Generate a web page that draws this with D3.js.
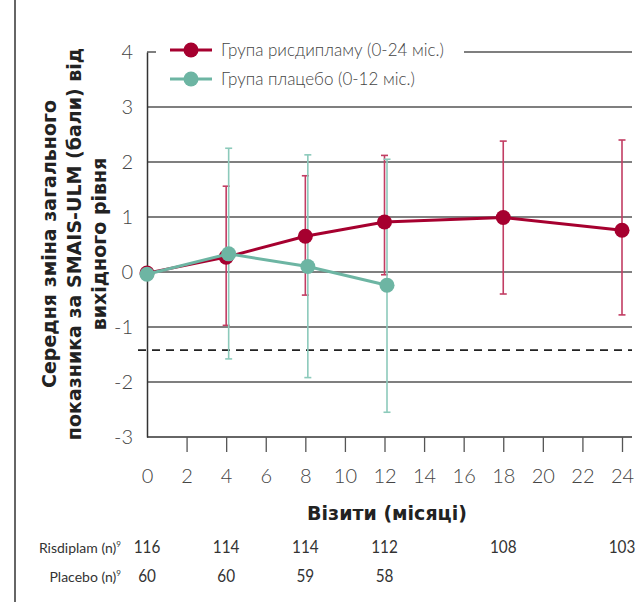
<!DOCTYPE html>
<html>
<head>
<meta charset="utf-8">
<script src="https://cdn.jsdelivr.net/npm/d3@7"></script>
<style>
  body { margin: 0; background: #fff; }
  svg text { font-family: Lato, "Open Sans", sans-serif; }
</style>
</head>
<body>
<div id="chart"></div>
<script>
// data
var months = [0, 4, 8, 12, 18, 24];
var risMean = [-0.02, 0.27, 0.65, 0.91, 0.99, 0.76];
var risLow = [null, -0.97, -0.42, -0.05, -0.40, -0.78];
var risHigh = [null, 1.56, 1.75, 2.12, 2.38, 2.40];
var risN = [116, 114, 114, 112, 108, 103];

var plcMonths = [0, 4, 8, 12];
var plcMean = [-0.04, 0.33, 0.10, -0.24];
var plcLow = [null, -1.58, -1.92, -2.55];
var plcHigh = [null, 2.25, 2.13, 2.05];
var plcN = [60, 60, 59, 58];

var xTicks = [0, 2, 4, 6, 8, 10, 12, 14, 16, 18, 20, 22, 24];
var yTicks = [-3, -2, -1, 0, 1, 2, 3, 4];
var thresholdY = -1.42;

var legendLabels = ['Група рисдипламу (0-24 міс.)', 'Група плацебо (0-12 міс.)'];
var yTitleLines = ['Середня зміна загального', 'показника за SMAIS-ULM (бали) від', 'вихідного рівня'];
var xTitle = 'Візити (місяці)';
var rowLabels = ['Risdiplam (n)', 'Placebo (n)'];

var RED = '#a6002f', GREEN = '#6db5a3';
var BOLD = '"DejaVu Sans", sans-serif';

var width = 639, height = 602;
var svg = d3.select('#chart').append('svg')
    .attr('width', width)
    .attr('height', height);

var x = d3.scaleLinear().domain([0, 24]).range([147, 622]);
var y = d3.scaleLinear().domain([-3, 4]).range([437, 52]);

// left frame line
svg.append('line')
    .attr('x1', 15).attr('x2', 15)
    .attr('y1', 0).attr('y2', height)
    .attr('stroke', '#333').attr('stroke-width', 1.5);

// gridlines
svg.append('g').selectAll('line')
    .data(yTicks.filter(function(d) { return d > -3; }))
    .enter().append('line')
    .attr('x1', x(0)).attr('x2', 632)
    .attr('y1', function(d) { return y(d); })
    .attr('y2', function(d) { return y(d); })
    .attr('stroke', '#555').attr('stroke-width', 1.3);

// dashed threshold
svg.append('line')
    .attr('x1', 138).attr('x2', 632)
    .attr('y1', y(thresholdY)).attr('y2', y(thresholdY))
    .attr('stroke', '#222').attr('stroke-width', 1.8)
    .attr('stroke-dasharray', '8,6');

// y axis
var yAxis = svg.append('g')
    .attr('transform', 'translate(' + x(0) + ',0)')
    .call(d3.axisLeft(y).tickValues(yTicks).tickSize(0).tickPadding(14)
        .tickFormat(d3.format('d')));
yAxis.select('.domain').attr('stroke', '#333').attr('stroke-width', 1.5);
yAxis.selectAll('text')
    .attr('font-size', 20).attr('font-weight', 300).attr('fill', '#444')
    .text(function(d) { return d < 0 ? '-' + Math.abs(d) : d; });

// x axis
var xAxis = svg.append('g')
    .attr('transform', 'translate(0,' + y(-3) + ')')
    .call(d3.axisBottom(x).tickValues(xTicks).tickSize(15).tickPadding(17).tickSizeOuter(0));
xAxis.select('.domain').attr('d', 'M' + x(0) + ',0H632').attr('stroke', '#333').attr('stroke-width', 1.5);
xAxis.selectAll('.tick line')
    .attr('stroke', '#555').attr('stroke-width', 1.3)
    .attr('opacity', function(d) { return d === 0 ? 0 : 1; });
xAxis.selectAll('text').attr('font-size', 20).attr('font-weight', 300).attr('fill', '#444');

// error bars
function errorBars(mx, lo, hi, color, dx) {
  var g = svg.append('g');
  mx.forEach(function(m, i) {
    if (lo[i] == null) return;
    var cx = x(m) + dx;
    g.append('line').attr('x1', cx).attr('x2', cx)
      .attr('y1', y(lo[i])).attr('y2', y(hi[i]))
      .attr('stroke', color).attr('stroke-width', 1.6);
    [lo[i], hi[i]].forEach(function(v) {
      g.append('line').attr('x1', cx - 3.5).attr('x2', cx + 3.5)
        .attr('y1', y(v)).attr('y2', y(v))
        .attr('stroke', color).attr('stroke-width', 1.6);
    });
  });
}
errorBars(months, risLow, risHigh, '#c23d63', 0);
errorBars(plcMonths, plcLow, plcHigh, '#8ccabb', 2.5);

// series lines and markers
function series(mx, my, color, dx) {
  var line = d3.line()
      .x(function(d, i) { return x(mx[i]) + (i ? dx : 0); })
      .y(function(d) { return y(d); });
  svg.append('path').datum(my)
      .attr('d', line)
      .attr('fill', 'none').attr('stroke', color).attr('stroke-width', 3);
  svg.append('g').selectAll('circle')
      .data(my).enter().append('circle')
      .attr('cx', function(d, i) { return x(mx[i]) + (i ? dx : 0); })
      .attr('cy', function(d) { return y(d); })
      .attr('r', 7.5).attr('fill', color);
}
series(months, risMean, RED, 0);
series(plcMonths, plcMean, GREEN, 2.5);

// legend, white box hides top gridline
svg.append('rect')
    .attr('x', 156).attr('y', 36).attr('width', 308).attr('height', 60)
    .attr('fill', '#fff');
var legend = svg.append('g');
[RED, GREEN].forEach(function(c, i) {
  var ly = 50 + i * 29;
  legend.append('line').attr('x1', 170).attr('x2', 212)
    .attr('y1', ly).attr('y2', ly).attr('stroke', c).attr('stroke-width', 3);
  legend.append('circle').attr('cx', 191).attr('cy', ly).attr('r', 7.5).attr('fill', c);
  legend.append('text').attr('x', 221).attr('y', ly + 6)
    .attr('font-size', 17).attr('font-weight', 300).attr('fill', '#444')
    .text(legendLabels[i]);
});

// axis titles
svg.append('text')
    .attr('x', 387).attr('y', 520)
    .attr('text-anchor', 'middle')
    .attr('font-size', 19).attr('font-weight', 'bold').attr('fill', '#222')
    .style('font-family', BOLD)
    .text(xTitle);

var yt = svg.append('text')
    .attr('transform', 'translate(56,244) rotate(-90)')
    .attr('text-anchor', 'middle')
    .attr('font-size', 19).attr('font-weight', 'bold').attr('fill', '#222')
    .style('font-family', BOLD);
yTitleLines.forEach(function(t, i) {
  yt.append('tspan').attr('x', 0).attr('dy', i ? 25 : 0).text(t);
});

// n table, values squeezed a little like the condensed source font
[[months, risN], [plcMonths, plcN]].forEach(function(row, r) {
  var ry = 553 + r * 29;
  var lab = svg.append('text')
      .attr('x', 121).attr('y', ry)
      .attr('text-anchor', 'end')
      .attr('font-size', 14).attr('fill', '#333')
      .text(rowLabels[r]);
  lab.append('tspan').attr('dy', -6).attr('font-size', 8).text('9');
  svg.append('g').selectAll('text')
      .data(row[1]).enter().append('text')
      .attr('transform', function(d, i) { return 'translate(' + x(row[0][i]) + ',' + ry + ') scale(0.9,1)'; })
      .attr('text-anchor', 'middle')
      .attr('font-size', 17).attr('fill', '#333')
      .text(function(d) { return d; });
});
</script>
</body>
</html>
